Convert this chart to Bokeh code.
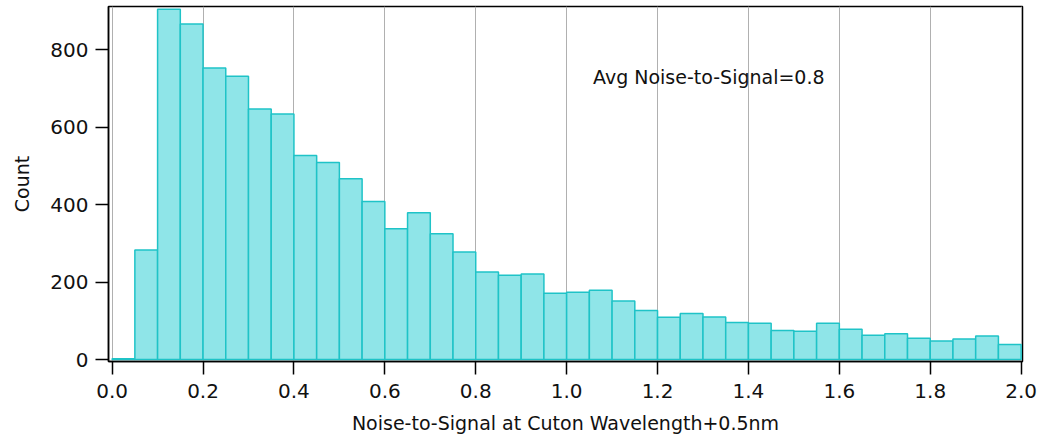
import numpy as np
from bokeh.plotting import figure
from bokeh.models import FixedTicker, PrintfTickFormatter, Label, ColumnDataSource
from bokeh.embed import file_html
from bokeh.resources import INLINE

# Histogram data (bin width 0.05 starting at 0.0)
bin_start = 0.0
bin_width = 0.05
counts = [2, 283, 905, 867, 753, 732, 647, 634, 527, 509,
          467, 408, 338, 379, 325, 278, 226, 218, 221, 171,
          174, 179, 151, 127, 109, 119, 110, 96, 94, 75,
          73, 94, 78, 63, 67, 55, 48, 53, 61, 39]
x_ticks = [0.0, 0.2, 0.4, 0.6, 0.8, 1.0, 1.2, 1.4, 1.6, 1.8, 2.0]
y_ticks = [0, 200, 400, 600, 800]
annotation = "Avg Noise-to-Signal=0.8"
x_label = "Noise-to-Signal at Cuton Wavelength+0.5nm"
y_label = "Count"

n = len(counts)
left = bin_start + bin_width * np.arange(n)
right = left + bin_width
src = ColumnDataSource(dict(left=left, right=right, top=counts, bottom=[0] * n))

FONT = "DejaVu Sans"

p = figure(width=1042, height=436, output_backend="svg", toolbar_location=None,
           x_range=(-0.008, 2.003), y_range=(-5, 912),
           min_border_left=108, min_border_right=20, min_border_top=6, min_border_bottom=75)

p.quad(left="left", right="right", top="top", bottom="bottom", source=src,
       fill_color="#8fe5e8", line_color="#1fc3c7", line_width=1.5)

p.outline_line_color = "black"
p.outline_line_width = 1.5

p.xgrid.grid_line_color = "#b0b0b0"
p.xgrid.grid_line_width = 1
p.ygrid.grid_line_color = None

p.xaxis.ticker = FixedTicker(ticks=x_ticks)
p.yaxis.ticker = FixedTicker(ticks=y_ticks)
p.xaxis.formatter = PrintfTickFormatter(format="%.1f")

for ax in (p.xaxis, p.yaxis):
    ax.axis_line_color = "black"
    ax.axis_line_width = 1.5
    ax.major_tick_line_color = "black"
    ax.major_tick_line_width = 1.5
    ax.major_tick_out = 13
    ax.major_tick_in = 0
    ax.minor_tick_line_color = None
    ax.major_label_text_font = FONT
    ax.major_label_text_font_size = "20px"
    ax.major_label_text_color = "#111111"
    ax.axis_label_text_font = FONT
    ax.axis_label_text_font_size = "19px"
    ax.axis_label_text_font_style = "normal"
    ax.axis_label_text_color = "#111111"

p.xaxis.axis_label = x_label
p.yaxis.axis_label = y_label
p.xaxis.major_label_standoff = 9
p.yaxis.major_label_standoff = 7
p.xaxis.axis_label_standoff = 11
p.yaxis.axis_label_standoff = 14

p.add_layout(Label(x=1.058, y=730, text=annotation, text_font=FONT,
                   text_font_size="19px", text_color="#111111",
                   text_baseline="middle", text_align="left"))

open("out.html", "w").write(file_html(p, INLINE))
